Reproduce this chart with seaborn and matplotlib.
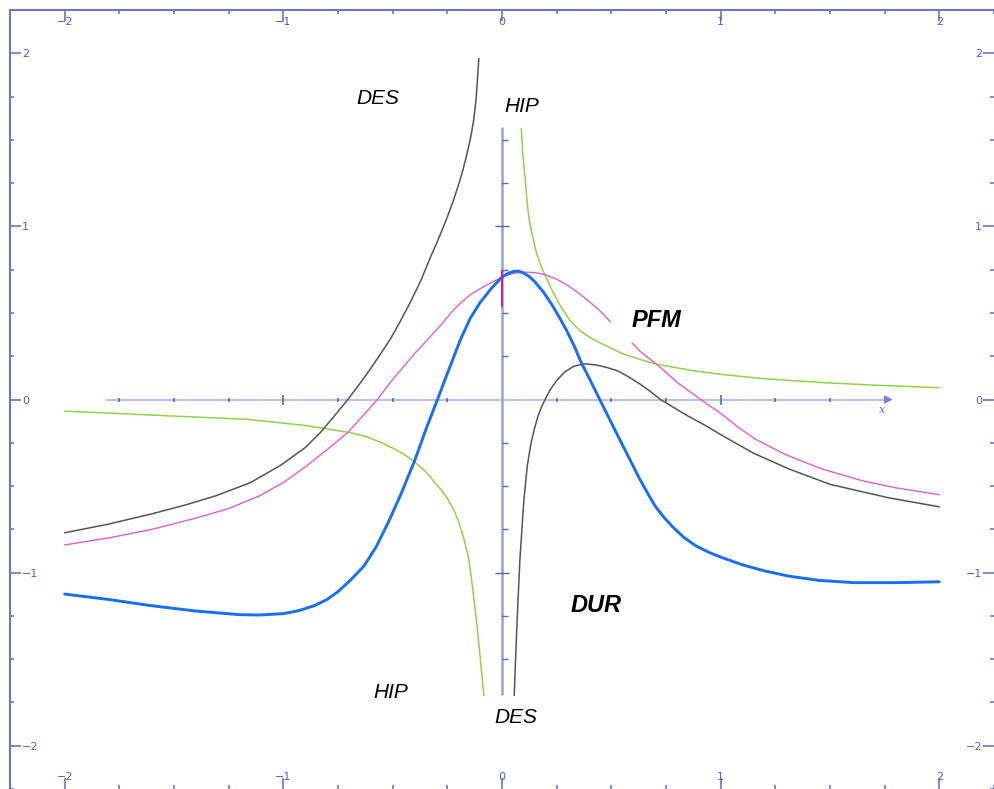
import matplotlib
matplotlib.use('Agg')
import matplotlib.pyplot as plt
import numpy as np
import seaborn as sns

# curve data (x, y)
dur_x = [-2.0, -1.8, -1.61, -1.4, -1.2, -1.11, -1.0, -0.93, -0.856, -0.8, -0.75, -0.69,
         -0.63, -0.575, -0.52, -0.46, -0.40, -0.35, -0.295, -0.25, -0.19, -0.145, -0.10, -0.05,
         0.0, 0.025, 0.053, 0.075, 0.10, 0.125, 0.15, 0.19, 0.227, 0.26, 0.295, 0.33,
         0.36, 0.40, 0.447, 0.52, 0.58, 0.63, 0.67, 0.70, 0.74, 0.78, 0.83, 0.886,
         0.95, 1.01, 1.1, 1.2, 1.31, 1.45, 1.61, 1.8, 2.0]
dur_y = [-1.124, -1.155, -1.19, -1.222, -1.243, -1.245, -1.237, -1.22, -1.19, -1.155, -1.11, -1.04,
         -0.96, -0.85, -0.71, -0.54, -0.355, -0.18, 0.0, 0.15, 0.346, 0.47, 0.56, 0.64,
         0.707, 0.727, 0.74, 0.742, 0.73, 0.71, 0.68, 0.62, 0.55, 0.48, 0.40, 0.31,
         0.22, 0.12, 0.0, -0.185, -0.335, -0.46, -0.55, -0.615, -0.68, -0.735, -0.795, -0.845,
         -0.885, -0.915, -0.955, -0.99, -1.02, -1.045, -1.058, -1.058, -1.053]

des_left_x = [-2.0, -1.8, -1.6, -1.45, -1.31, -1.15, -1.01, -0.9, -0.83, -0.77, -0.705, -0.65,
              -0.6, -0.56, -0.51, -0.47, -0.42, -0.37, -0.326, -0.30, -0.275, -0.25, -0.225, -0.2,
              -0.18, -0.16, -0.144, -0.13, -0.118, -0.106]
des_left_y = [-0.77, -0.72, -0.66, -0.61, -0.557, -0.48, -0.378, -0.278, -0.19, -0.1, 0.0, 0.092,
              0.18, 0.255, 0.35, 0.44, 0.56, 0.69, 0.826, 0.90, 0.975, 1.055, 1.14, 1.235,
              1.32, 1.42, 1.51, 1.61, 1.74, 1.97]
des_right_x = [0.056, 0.062, 0.068, 0.075, 0.082, 0.1, 0.116, 0.133, 0.15, 0.165, 0.18, 0.197,
               0.22, 0.25, 0.288, 0.33, 0.38, 0.43, 0.48, 0.53, 0.58, 0.63, 0.68, 0.725,
               0.79, 0.85, 0.93, 1.01, 1.15, 1.31, 1.5, 1.765, 2.0]
des_right_y = [-1.71, -1.5, -1.31, -1.11, -0.923, -0.58, -0.38, -0.25, -0.16, -0.095, -0.045, 0.0,
               0.055, 0.11, 0.16, 0.193, 0.206, 0.20, 0.185, 0.165, 0.13, 0.09, 0.045, 0.0,
               -0.05, -0.095, -0.15, -0.21, -0.31, -0.40, -0.49, -0.567, -0.62]

pfm_a_x = [-2.0, -1.8, -1.6, -1.4, -1.25, -1.11, -1.0, -0.9, -0.8, -0.705, -0.64, -0.57,
           -0.51, -0.45, -0.4, -0.34, -0.28, -0.23, -0.19, -0.14, -0.1, -0.05, 0.0, 0.05,
           0.1, 0.15, 0.2, 0.25, 0.3, 0.35, 0.4, 0.45, 0.495]
pfm_a_y = [-0.84, -0.80, -0.75, -0.685, -0.63, -0.557, -0.48, -0.39, -0.29, -0.19, -0.10, 0.0,
           0.10, 0.19, 0.265, 0.346, 0.43, 0.505, 0.557, 0.61, 0.64, 0.675, 0.707, 0.728,
           0.736, 0.733, 0.72, 0.695, 0.66, 0.615, 0.565, 0.51, 0.45]
pfm_b_x = [0.595, 0.63, 0.66, 0.72, 0.76, 0.81, 0.86, 0.909, 1.0, 1.08, 1.16, 1.3,
           1.46, 1.65, 1.8, 2.0]
pfm_b_y = [0.327, 0.28, 0.25, 0.19, 0.145, 0.09, 0.045, 0.0, -0.08, -0.16, -0.23, -0.32,
           -0.40, -0.47, -0.51, -0.55]

hip_left_x = [-2.0, -1.6, -1.16, -0.9, -0.70, -0.62, -0.55, -0.5, -0.45, -0.40, -0.35, -0.30,
              -0.27, -0.25, -0.22, -0.2, -0.175, -0.152, -0.133, -0.114, -0.098, -0.083]
hip_left_y = [-0.067, -0.09, -0.115, -0.15, -0.19, -0.215, -0.25, -0.28, -0.315, -0.36, -0.415, -0.49,
              -0.535, -0.57, -0.64, -0.70, -0.80, -0.92, -1.1, -1.31, -1.51, -1.71]
hip_right_x = [0.088, 0.095, 0.106, 0.113, 0.12, 0.13, 0.144, 0.157, 0.17, 0.185, 0.2, 0.22,
               0.25, 0.27, 0.29, 0.31, 0.33, 0.36, 0.40, 0.44, 0.49, 0.55, 0.61, 0.65,
               0.70, 0.78, 0.886, 1.01, 1.2, 1.46, 1.7, 2.0]
hip_right_y = [1.566, 1.42, 1.27, 1.17, 1.08, 1.0, 0.92, 0.85, 0.80, 0.75, 0.71, 0.655,
               0.58, 0.535, 0.495, 0.46, 0.43, 0.395, 0.36, 0.333, 0.302, 0.265, 0.24, 0.224,
               0.207, 0.187, 0.164, 0.144, 0.12, 0.098, 0.083, 0.068]

labels = ['DES', 'HIP', 'PFM', 'DUR', 'HIP', 'DES']
label_x = [-0.568, 0.091, 0.705, 0.432, -0.509, 0.064]
label_y = [1.736, 1.69, 0.456, -1.19, -1.69, -1.835]
label_bold = [False, False, True, True, False, False]

sns.set_style('white')
plt.rcParams['font.family'] = ['Liberation Sans', 'DejaVu Sans']

fig = plt.figure(figsize=(9.94, 7.89), dpi=100)
ax = fig.add_axes([10 / 994, 0.0, 984 / 994, 779 / 789])
ax.set_xlim(-2.25, 2.223)
ax.set_ylim(-2.244, 2.248)

frame = '#6a78bf'
axis_c = '#aab2e0'

# inner axes cross
ax.plot([-1.81, 1.76], [0, 0], color=axis_c, lw=1.1, zorder=1)
ax.annotate('', xy=(1.80, 0), xytext=(1.74, 0),
            arrowprops=dict(arrowstyle='-|>', color='#7884c8', lw=1,
                            mutation_scale=12), zorder=1)
ax.plot([0, 0], [-1.70, 1.566], color='#98a2d8', lw=1.8, zorder=1)
tx = [v for v in np.arange(-1.75, 1.51, 0.25) if abs(v) > 1e-9 and abs(abs(v) - 1) > 1e-9]
ax.plot(tx, [0] * len(tx), ls='none', marker='|', ms=3, mew=1.2, color='#5a68b0', zorder=2)
ax.plot([-1, 1], [0, 0], ls='none', marker='|', ms=7, mew=1.2, color='#5a68b0', zorder=2)
ty = [v for v in np.arange(-1.5, 1.51, 0.25) if abs(v) > 1e-9 and abs(abs(v) - 1) > 1e-9]
ax.plot([0] * len(ty), ty, ls='none', marker=1, ms=4, mew=1.0, color='#5a68b0', zorder=2)
ax.plot([0, 0], [-1, 1], ls='none', marker='_', ms=10, mew=1.0, color='#5a68b0', zorder=2)
ax.text(1.74, -0.06, 'x', family='DejaVu Serif', style='italic', fontsize=8,
        color='#6070c0', ha='center', va='center')

# short magenta mark on the y axis
ax.plot([0, 0], [0.745, 0.54], color='#c8249a', lw=1.5, zorder=3)

# curves
kw = dict(ax=ax, estimator=None, sort=False, solid_joinstyle='round', solid_capstyle='round')
sns.lineplot(x=hip_left_x, y=hip_left_y, color='#92d24a', lw=1.1, **kw)
sns.lineplot(x=hip_right_x, y=hip_right_y, color='#92d24a', lw=1.1, **kw)
sns.lineplot(x=des_left_x, y=des_left_y, color='#555555', lw=1.1, **kw)
sns.lineplot(x=des_right_x, y=des_right_y, color='#555555', lw=1.1, **kw)
sns.lineplot(x=pfm_a_x, y=pfm_a_y, color='#e060c4', lw=1.0, **kw)
sns.lineplot(x=pfm_b_x, y=pfm_b_y, color='#e060c4', lw=1.0, **kw)
sns.lineplot(x=dur_x, y=dur_y, color='#1a6ff0', lw=2.1, **kw)

for t, lx, ly, b in zip(labels, label_x, label_y, label_bold):
    ax.text(lx, ly, t, fontsize=17 if b else 15, style='italic',
            weight='bold' if b else 'normal', ha='center', va='center', color='black')

# frame with inward ticks and labels inside
for s in ['left', 'top']:
    ax.spines[s].set_color(frame)
    ax.spines[s].set_linewidth(1.5)
ax.spines['right'].set_visible(False)
ax.spines['bottom'].set_visible(False)

ax.set_xticks([-2, -1, 0, 1, 2])
ax.set_yticks([-2, -1, 0, 1, 2])
ax.set_xticks(np.arange(-2.25, 2.26, 0.25), minor=True)
ax.set_yticks(np.arange(-2.25, 2.26, 0.25), minor=True)
ax.set_xticklabels(['\u22122', '\u22121', '0', '1', '2'])
ax.set_yticklabels(['\u22122', '\u22121', '0', '1', '2'])
ax.tick_params(which='both', direction='in', color=frame, width=1.2,
               top=True, bottom=True, left=True, right=True,
               labeltop=True, labelbottom=True, labelleft=True, labelright=True,
               labelsize=8, labelcolor='#5060b0')
ax.tick_params(which='major', length=8)
ax.tick_params(which='minor', length=3)
ax.tick_params(axis='x', which='major', pad=-5)
ax.tick_params(axis='y', which='major', pad=-8.5)
for t in ax.xaxis.get_major_ticks():
    t.label1.set_va('bottom')
    t.label2.set_va('top')
for t in ax.yaxis.get_major_ticks():
    t.label1.set_ha('left')
    t.label2.set_ha('right')
for lab in ax.get_xticklabels() + ax.get_yticklabels():
    lab.set_family('DejaVu Sans')
ax.set_xlabel('')
ax.set_ylabel('')

fig.savefig('out.png', dpi=100)
